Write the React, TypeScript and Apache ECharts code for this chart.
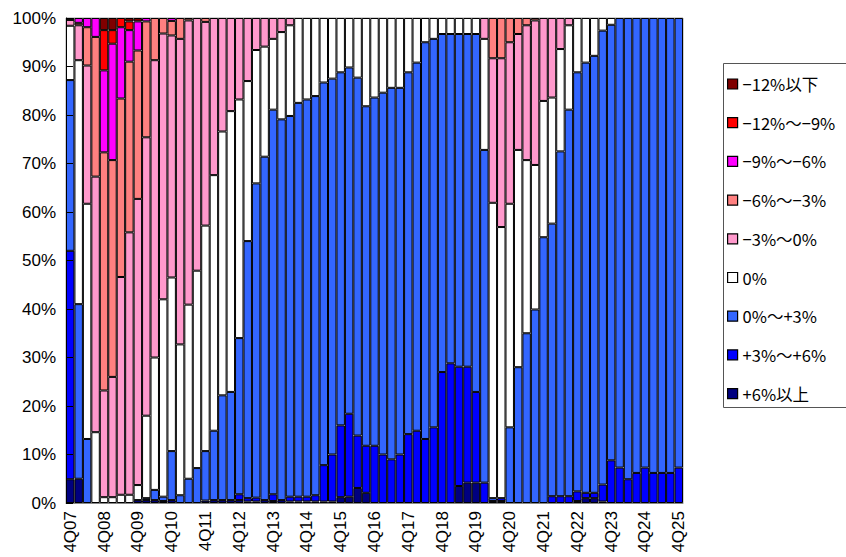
import React, { useEffect, useRef } from "react";
import * as echarts from "echarts";

// Quarter labels, 4Q07 through 4Q25
const quarters: string[] = [
  "4Q07",
  "1Q08", "2Q08", "3Q08", "4Q08",
  "1Q09", "2Q09", "3Q09", "4Q09",
  "1Q10", "2Q10", "3Q10", "4Q10",
  "1Q11", "2Q11", "3Q11", "4Q11",
  "1Q12", "2Q12", "3Q12", "4Q12",
  "1Q13", "2Q13", "3Q13", "4Q13",
  "1Q14", "2Q14", "3Q14", "4Q14",
  "1Q15", "2Q15", "3Q15", "4Q15",
  "1Q16", "2Q16", "3Q16", "4Q16",
  "1Q17", "2Q17", "3Q17", "4Q17",
  "1Q18", "2Q18", "3Q18", "4Q18",
  "1Q19", "2Q19", "3Q19", "4Q19",
  "1Q20", "2Q20", "3Q20", "4Q20",
  "1Q21", "2Q21", "3Q21", "4Q21",
  "1Q22", "2Q22", "3Q22", "4Q22",
  "1Q23", "2Q23", "3Q23", "4Q23",
  "1Q24", "2Q24", "3Q24", "4Q24",
  "1Q25", "2Q25", "3Q25", "4Q25",
];

// Share of respondents (%) in each band, one value per quarter
const plus6Over: number[] = [
  4.9, 5, 0, 0, 0, 0, 0, 0, 0.6, 0.6, 0.6, 0.4, 0.6, 0, 0, 0, 0.5,
  0.6, 0.6, 0.6, 0.6, 0.3, 0.3, 0.6, 0.4, 0.6, 0.3, 0.3, 0.3, 0.3, 0.3, 0.3, 1.2,
  1.3, 3.1, 2.1, 0, 0, 0, 0, 0, 0, 0, 0, 0, 0, 3.5, 4.2, 4.2,
  0, 0.4, 0.4, 0, 0, 0, 0, 0, 0, 0, 0, 0.4, 1, 1, 0.3, 0,
  0, 0, 0, 0, 0, 0, 0, 0,
];
const plus3to6: number[] = [
  47.1, 0, 0, 0, 0, 0, 0, 0, 0, 0, 0, 0, 0, 0, 0, 0, 0,
  0, 0, 0, 1.2, 0.7, 0.8, 0, 1.4, 0, 1, 1, 1, 1.3, 7.5, 9.7, 14.8,
  17.1, 10.8, 9.7, 11.8, 10, 9, 10, 14.2, 14.9, 13.2, 15.6, 27, 28.8, 24.6, 23.9, 18.7,
  4.2, 0, 0.6, 0, 0, 0, 0, 0, 1.4, 1.4, 1.4, 2, 1.1, 1.1, 3.5, 8.8,
  7.3, 4.9, 6.2, 7.3, 6.2, 6.2, 6.2, 7.3,
];
const plus0to3: number[] = [
  35.2, 36, 13.2, 0, 0, 0, 0, 0, 0, 0.4, 2.1, 0.9, 10.1, 1.6, 5, 7.2, 10.2,
  14.3, 21.6, 22.3, 32.2, 53, 64.8, 70.8, 79.3, 78.5, 78.5, 81.2, 81.9, 82.3, 78.9, 77.5, 72.8,
  71.4, 73.8, 70, 71.8, 74.6, 76.6, 75.6, 74.6, 75.9, 81.8, 80.1, 69.7, 67.9, 68.6, 68.6, 73.8,
  68.6, 0.6, 0, 15.6, 28, 35, 39.9, 54.8, 56.2, 71.1, 79.7, 86.4, 88.7, 90.1, 93.6, 89.8,
  92.7, 95.1, 93.8, 92.7, 93.8, 93.8, 93.8, 92.7,
];
const zero: number[] = [
  11.2, 50.3, 48.5, 14.6, 1.2, 1.2, 1.7, 1.7, 3.1, 17, 27.3, 40.7, 35.8, 31.1, 35.9, 40.7, 46.5,
  52.7, 54.4, 57.9, 49.2, 33, 27.5, 22.7, 14.6, 18, 18.7, 17.5, 16.8, 16.1, 13.3, 12.5, 11.2,
  10.2, 12.3, 18.2, 16.4, 15.4, 14.4, 14.4, 11.2, 9.2, 5, 4.3, 3.3, 3.3, 3.3, 3.3, 3.3,
  22.9, 60.9, 55.9, 46.1, 44.8, 35.7, 29.8, 28.1, 26, 21.1, 17.4, 11.2, 9.2, 7.8, 2.6, 1.4,
  0, 0, 0, 0, 0, 0, 0, 0,
];
const minus3to0: number[] = [
  1.2, 7.2, 28.5, 52.7, 22, 24.8, 44.9, 54.1, 59, 57.4, 61.3, 54.8, 49.9, 63, 58.6, 52.1, 42,
  32.4, 23.4, 19.2, 16.8, 13, 6.6, 5.9, 4.3, 2.9, 1.5, 0, 0, 0, 0, 0, 0,
  0, 0, 0, 0, 0, 0, 0, 0, 0, 0, 0, 0, 0, 0, 0, 0,
  4.3, 29.8, 34.8, 33.3, 23.9, 27.8, 29.8, 17.1, 16.4, 6.4, 1.5, 0, 0, 0, 0, 0,
  0, 0, 0, 0, 0, 0, 0, 0,
];
const minus6to3: number[] = [
  0.4, 0.5, 7.9, 28.8, 49.1, 44.7, 36.8, 35.2, 30.6, 23.9, 8.7, 3.2, 3, 4.3, 0.5, 0, 0.8,
  0, 0, 0, 0, 0, 0, 0, 0, 0, 0, 0, 0, 0, 0, 0, 0,
  0, 0, 0, 0, 0, 0, 0, 0, 0, 0, 0, 0, 0, 0, 0, 0,
  0, 8.3, 8.3, 5, 3.3, 1.5, 0.5, 0, 0, 0, 0, 0, 0, 0, 0, 0,
  0, 0, 0, 0, 0, 0, 0, 0,
];
const minus9to6: number[] = [
  0, 1, 1.9, 3.9, 16.9, 24, 14.7, 6.5, 6, 0.7, 0, 0, 0.6, 0, 0, 0, 0,
  0, 0, 0, 0, 0, 0, 0, 0, 0, 0, 0, 0, 0, 0, 0, 0,
  0, 0, 0, 0, 0, 0, 0, 0, 0, 0, 0, 0, 0, 0, 0, 0,
  0, 0, 0, 0, 0, 0, 0, 0, 0, 0, 0, 0, 0, 0, 0, 0,
  0, 0, 0, 0, 0, 0, 0, 0,
];
const minus12to9: number[] = [
  0, 0, 0, 0, 8.3, 2.8, 1.9, 1.8, 0, 0, 0, 0, 0, 0, 0, 0, 0,
  0, 0, 0, 0, 0, 0, 0, 0, 0, 0, 0, 0, 0, 0, 0, 0,
  0, 0, 0, 0, 0, 0, 0, 0, 0, 0, 0, 0, 0, 0, 0, 0,
  0, 0, 0, 0, 0, 0, 0, 0, 0, 0, 0, 0, 0, 0, 0, 0,
  0, 0, 0, 0, 0, 0, 0, 0,
];
const minus12Under: number[] = [
  0, 0, 0, 0, 2.5, 2.5, 0, 0.7, 0.7, 0, 0, 0, 0, 0, 0, 0, 0,
  0, 0, 0, 0, 0, 0, 0, 0, 0, 0, 0, 0, 0, 0, 0, 0,
  0, 0, 0, 0, 0, 0, 0, 0, 0, 0, 0, 0, 0, 0, 0, 0,
  0, 0, 0, 0, 0, 0, 0, 0, 0, 0, 0, 0, 0, 0, 0, 0,
  0, 0, 0, 0, 0, 0, 0, 0,
];

// Stacked from the bottom up
const bands = [
  { name: "+6%以上", color: "#000080", values: plus6Over },
  { name: "+3%～+6%", color: "#0000FF", values: plus3to6 },
  { name: "0%～+3%", color: "#3366FF", values: plus0to3 },
  { name: "0%", color: "#FFFFFF", values: zero },
  { name: "−3%～0%", color: "#FF99CC", values: minus3to0 },
  { name: "−6%～−3%", color: "#FF8080", values: minus6to3 },
  { name: "−9%～−6%", color: "#FF00FF", values: minus9to6 },
  { name: "−12%～−9%", color: "#FF0000", values: minus12to9 },
  { name: "−12%以下", color: "#800000", values: minus12Under },
];

const yTicks = [0, 10, 20, 30, 40, 50, 60, 70, 80, 90, 100];

const latin = "'Liberation Sans', Arial, sans-serif";
const cjk = "'Noto Sans CJK JP', 'Liberation Sans', sans-serif";

export default function App() {
  const ref = useRef<HTMLDivElement>(null);

  useEffect(() => {
    if (!ref.current) return;
    const chart = echarts.init(ref.current, undefined, { renderer: "svg" });

    chart.setOption({
      animation: false,
      backgroundColor: "#FFFFFF",
      grid: {
        left: 66,
        right: 163,
        top: 18,
        bottom: 54,
        show: true,
        borderColor: "#A0A0A0",
        borderWidth: 1,
      },
      legend: {
        orient: "vertical",
        left: 727,
        top: 75,
        padding: 0,
        itemWidth: 10,
        itemHeight: 10,
        itemGap: 20.7,
        icon: "rect",
        data: bands.map((b) => b.name).reverse(),
        textStyle: {
          fontFamily: cjk,
          fontSize: 16.5,
          lineHeight: 18,
          color: "#000",
        },
        itemStyle: { borderColor: "#000", borderWidth: 1.2 },
      },
      graphic: [
        {
          type: "rect",
          shape: { x: 723.5, y: 63.5, width: 200, height: 344 },
          style: { fill: "none", stroke: "#555", lineWidth: 1 },
          z: 0,
        },
      ],
      xAxis: {
        type: "category",
        data: quarters,
        boundaryGap: true,
        axisLine: { show: true, lineStyle: { color: "#888", width: 1 } },
        axisTick: { show: false },
        axisLabel: {
          interval: 3,
          rotate: 90,
          margin: 8,
          fontFamily: latin,
          fontSize: 17,
          color: "#000",
        },
        splitLine: { show: false },
      },
      yAxis: {
        type: "value",
        min: yTicks[0],
        max: yTicks[yTicks.length - 1],
        interval: 10,
        z: 10,
        axisLine: { show: true, lineStyle: { color: "#000", width: 1 } },
        axisTick: {
          show: true,
          inside: true,
          length: 7,
          lineStyle: { color: "#000", width: 1 },
        },
        axisLabel: {
          formatter: "{value}%",
          margin: 10,
          fontFamily: latin,
          fontSize: 17,
          color: "#000",
        },
        splitLine: { show: false },
      },
      series: bands.map((b) => ({
        name: b.name,
        type: "bar",
        stack: "share",
        barCategoryGap: "0%",
        data: b.values.map((v) => (v === 0 ? "-" : v)),
        itemStyle: {
          color: b.color,
          borderColor: "#000",
          borderWidth: 1,
        },
        emphasis: { disabled: true },
      })),
    });

    return () => chart.dispose();
  }, []);

  return (
    <div
      ref={ref}
      style={{ position: "fixed", left: 0, top: 0, width: 846, height: 557 }}
    />
  );
}
